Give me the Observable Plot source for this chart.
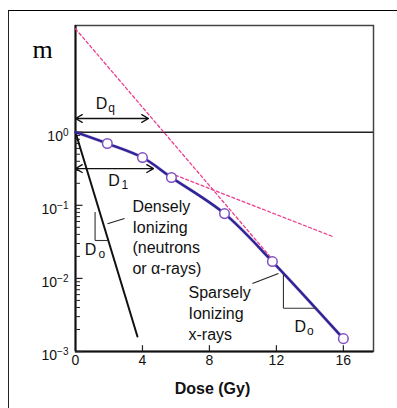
<!DOCTYPE html>
<html>
<head>
<meta charset="utf-8">
<script src="https://cdn.jsdelivr.net/npm/d3@7"></script>
<script src="https://cdn.jsdelivr.net/npm/@observablehq/plot@0.6"></script>
<style>
  body { margin: 0; background: #fff; }
  #wrap { position: relative; width: 397px; height: 408px; overflow: hidden; }
  #border { position: absolute; left: 8px; top: 10px; right: -5px; bottom: -5px;
            border-top: 1.5px solid #000; border-left: 1.5px solid #222; }
  #wrap svg { position: absolute; left: 0; top: 0; }
</style>
</head>
<body>
<div id="wrap"><div id="border"></div></div>
<script>
// ---- data ----
const xTicks = [0, 4, 8, 12, 16];
const yTicks = [1e-3, 1e-2, 1e-1, 1];
const yTickBase = ["10", "10", "10", "10"];
const yTickExp = ["−3", "−2", "−1", "0"];
const minorTicks = [1e-3, 1e-2, 1e-1].flatMap(d => [2,3,4,5,6,7,8,9].map(k => k * d));

// sparsely ionizing (x-rays) survival curve
const sparseDose = [0, 1.9, 4.0, 5.73, 8.9, 11.76, 16.0];
const sparseSurv = [1, 0.70, 0.45, 0.24, 0.077, 0.017, 0.0015];
// measured points (open circles)
const pointDose = [1.9, 4.0, 5.73, 8.9, 11.76, 16.0];
const pointSurv = [0.70, 0.45, 0.24, 0.077, 0.017, 0.0015];

// densely ionizing (neutrons / alpha) line
const denseDose = [0, 3.7];
const denseSurv = [1, 0.0016];

// extrapolation lines (dashed)
const steepDose = [0, 11.8];
const steepSurv = [26, 0.0178];
const shallowDose = [5.97, 15.34];
const shallowSurv = [0.258, 0.0376];

// Dq and D1 double arrows
const arrowY = [1.54, 0.318];
const arrowEnd = [4.36, 4.66];

// D0 triangles [x vertical, y top, y bottom, x horizontal end]
const triDense = [1.17, 0.081, 0.033, 1.95];
const triSparse = [12.42, 0.0117, 0.0039, 14.4];

// leader lines
const leaderX1 = [1.91, 10.57], leaderY1 = [0.056, 0.0085];
const leaderX2 = [2.93, 12.12], leaderY2 = [0.066, 0.0117];

// annotation labels
const blockLabels = ["Densely\nIonizing\n(neutrons\nor α-rays)", "Sparsely\nIonizing\nx-rays"];
const blockX = [3.40, 6.75];
const blockY = [0.0375, 0.00345];
const dMain = ["D", "D", "D", "D"];
const dX = [1.55, 2.30, 0.90, 13.43];
const dY = [2.47, 0.219, 0.0248, 0.0022];
const dSub = ["q", "1", "o", "o"];
const subX = [2.15, 2.95, 1.58, 14.03];
const subY = [2.11, 0.186, 0.0212, 0.00188];

// ---- build tables ----
const sparse = sparseDose.map((d, i) => ({dose: d, surv: sparseSurv[i]}));
const points = pointDose.map((d, i) => ({dose: d, surv: pointSurv[i]}));
const dense = denseDose.map((d, i) => ({dose: d, surv: denseSurv[i]}));
const steep = steepDose.map((d, i) => ({dose: d, surv: steepSurv[i]}));
const shallow = shallowDose.map((d, i) => ({dose: d, surv: shallowSurv[i]}));
const arrows = arrowY.flatMap((y, i) => [
  {x1: arrowEnd[i] / 2, x2: 0, y},
  {x1: arrowEnd[i] / 2, x2: arrowEnd[i], y}
]);
const triSegs = [triDense, triSparse].flatMap(t => [
  {x1: t[0], y1: t[1], x2: t[0], y2: t[2]},
  {x1: t[0], y1: t[2], x2: t[3], y2: t[2]}
]);
const leaders = leaderX1.map((x, i) => ({x1: x, y1: leaderY1[i], x2: leaderX2[i], y2: leaderY2[i]}));
const blocks = blockLabels.map((t, i) => ({t, x: blockX[i], y: blockY[i]}));
const dm = dMain.map((t, i) => ({t, x: dX[i], y: dY[i]}));
const ds = dSub.map((t, i) => ({t, x: subX[i], y: subY[i]}));

const chart = Plot.plot({
  width: 397,
  height: 408,
  marginLeft: 75,
  marginRight: 24,
  marginTop: 25,
  marginBottom: 57,
  style: {fontFamily: "'Liberation Sans', Arial, 'DejaVu Sans', sans-serif", fontSize: "14px", background: "transparent", color: "#111"},
  x: {domain: [0, 17.8]},
  y: {type: "log", domain: [1e-3, Math.pow(10, 1.46)]},
  marks: [
    Plot.frame({stroke: "#444", strokeWidth: 1.5}),
    Plot.ruleY([1], {stroke: "#222", strokeWidth: 1.5}),
    Plot.ruleX([0], {stroke: "#111", strokeWidth: 2}),
    Plot.ruleY([1e-3], {stroke: "#111", strokeWidth: 2}),
    // inward ticks
    Plot.ruleY(minorTicks, {x1: 0, x2: 0.3, stroke: "#222", strokeWidth: 1}),
    Plot.ruleY(yTicks, {x1: 0, x2: 0.45, stroke: "#222", strokeWidth: 1.2}),
    Plot.ruleX(xTicks.slice(1), {y1: 1e-3, y2: 1.2e-3, stroke: "#222", strokeWidth: 1.2}),
    Plot.axisX(xTicks, {tickSize: 0, tickPadding: 4, fontSize: 14, label: null}),
    Plot.axisY(yTicks, {tickSize: 0, tickPadding: 7, dy: 4, fontSize: 14, label: null,
      tickFormat: d => { const i = yTicks.indexOf(d); return yTickBase[i] + "^" + yTickExp[i]; }}),
    // dashed extrapolations
    Plot.line(steep, {x: "dose", y: "surv", stroke: "#ee3d8f", strokeWidth: 1.3, strokeDasharray: "3,2.5"}),
    Plot.line(shallow, {x: "dose", y: "surv", stroke: "#ee3d8f", strokeWidth: 1.3, strokeDasharray: "3,2.5"}),
    // densely ionizing
    Plot.line(dense, {x: "dose", y: "surv", stroke: "#111", strokeWidth: 2}),
    // sparsely ionizing
    Plot.line(sparse, {x: "dose", y: "surv", curve: "catmull-rom", stroke: "#c04a9a", strokeWidth: 3.4, strokeOpacity: 0.4}),
    Plot.line(sparse, {x: "dose", y: "surv", curve: "catmull-rom", stroke: "#27279a", strokeWidth: 2.4}),
    Plot.dot(points, {x: "dose", y: "surv", r: 4.8, fill: "white", stroke: "#8050c0", strokeWidth: 1.5}),
    // D0 triangles and leaders
    Plot.link(triSegs, {x1: "x1", y1: "y1", x2: "x2", y2: "y2", stroke: "#333", strokeWidth: 1.1}),
    Plot.link(leaders, {x1: "x1", y1: "y1", x2: "x2", y2: "y2", stroke: "#222", strokeWidth: 1.1}),
    // arrows
    Plot.arrow(arrows, {x1: "x1", x2: "x2", y1: "y", y2: "y", bend: 0, headLength: 9, stroke: "#111", strokeWidth: 1.3}),
    // labels
    Plot.text(blocks, {x: "x", y: "y", text: "t", textAnchor: "start", lineAnchor: "middle", lineHeight: 1.3, fontSize: 16, fill: "#111"}),
    Plot.text(dm, {x: "x", y: "y", text: "t", fontSize: 16, fill: "#111"}),
    Plot.text(ds, {x: "x", y: "y", text: "t", fontSize: 12, fill: "#111"}),
    Plot.text(["Dose (Gy)"], {frameAnchor: "bottom", dx: -12, dy: 42, fontSize: 16, fontWeight: "bold", fill: "#111"}),
    Plot.text(["m"], {frameAnchor: "top-left", dx: -43, dy: 14, fontSize: 26, fontFamily: "'Liberation Serif', 'Times New Roman', serif", fill: "#000"})
  ]
});

// render exponents of the y tick labels as raised superscripts
d3.select(chart).selectAll("text").each(function() {
  const s = this.textContent;
  if (/^10\^/.test(s) && this.childElementCount === 0) {
    const [base, exp] = s.split("^");
    const t = d3.select(this);
    t.text(base);
    t.append("tspan").attr("dy", "-0.5em").attr("font-size", "10px").text(exp);
  }
});
document.getElementById("wrap").appendChild(chart);
</script>
</body>
</html>
